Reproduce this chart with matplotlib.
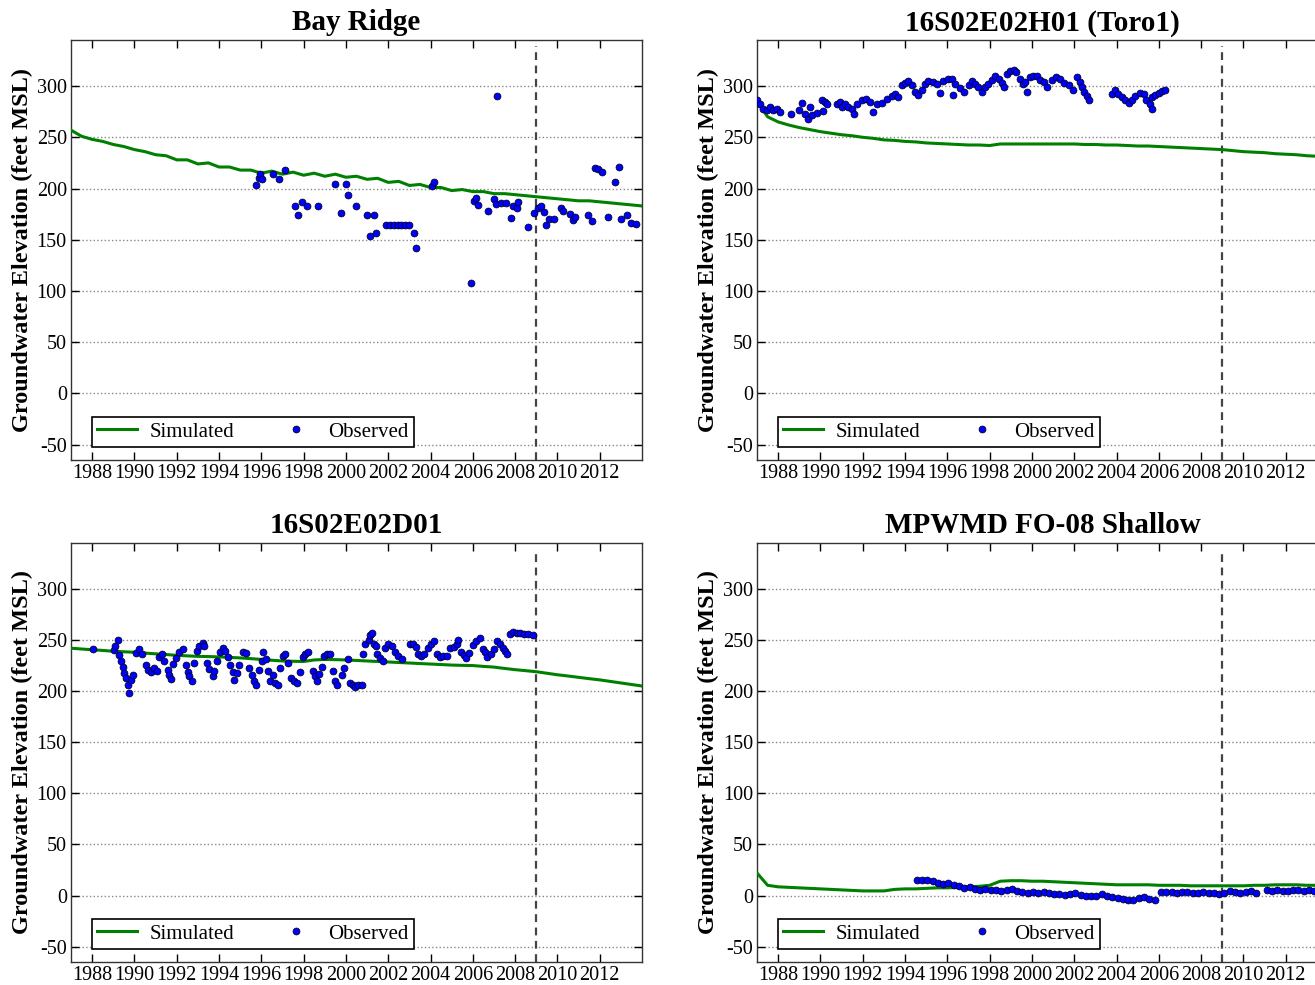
import numpy as np
import matplotlib
matplotlib.use('Agg')
import matplotlib.pyplot as plt

plt.rcParams['font.family'] = ['Liberation Serif', 'DejaVu Serif']
plt.rcParams['axes.unicode_minus'] = False

# ---------------- data (decimal years, feet MSL) ----------------
sim_years = np.arange(1987.0, 2014.01, 0.5)

bay_sim = [257, 251, 248, 246, 243, 241, 238, 236, 233, 232, 228, 228, 224, 225,
           221, 221, 218, 218, 215, 217, 214, 216, 213, 215, 212, 214, 211, 212,
           209, 210, 206, 207, 203, 204, 201, 201, 198, 199, 197, 197, 195, 195,
           194, 193, 192, 191, 190, 189, 188, 188, 187, 186, 185, 184, 183]
bay_obs_t = [1995.73, 1995.88, 1995.96, 1996.02, 1996.57, 1996.84, 1997.10, 1997.58,
             1997.75, 1997.92, 1998.16, 1998.68, 1999.50, 1999.75, 2000.00, 2000.09,
             2000.50, 2000.99, 2001.15, 2001.34, 2001.43, 2001.90, 2002.08, 2002.26,
             2002.44, 2002.62, 2002.80, 2002.97, 2003.22, 2003.32, 2004.07, 2004.15,
             2005.90, 2006.04, 2006.15, 2006.23, 2006.73, 2007.02, 2007.14, 2007.10,
             2007.33, 2007.57, 2007.82, 2007.90, 2008.07, 2008.16, 2008.59, 2008.89,
             2009.06, 2009.22, 2009.36, 2009.47, 2009.60, 2009.85, 2010.15, 2010.26,
             2010.60, 2010.73, 2010.84, 2011.47, 2011.63, 2011.77, 2011.91, 2012.13,
             2012.40, 2012.74, 2012.89, 2012.99, 2013.31, 2013.48, 2013.73]
bay_obs = [203, 210, 214, 209, 214, 209, 218, 183, 174, 187, 183, 183, 204, 176,
           204, 194, 183, 174, 154, 174, 157, 164, 164, 164, 164, 164, 164, 164,
           157, 142, 202, 206, 108, 188, 191, 184, 178, 190, 290, 185, 186, 186,
           171, 183, 181, 187, 162, 176, 181, 183, 177, 164, 170, 170, 181, 178,
           175, 169, 172, 174, 168, 220, 219, 216, 172, 206, 221, 170, 174, 166, 165]

toro_sim = [285, 270, 265, 262, 259.5, 257.5, 255.5, 254, 252.5, 251.5, 250, 249,
            247.5, 247, 246, 245.5, 244.5, 244, 243.5, 243, 242.5, 242.5, 242, 243.5,
            243.5, 243.5, 243.5, 243.5, 243.5, 243.5, 243.5, 243, 243, 242.5, 242.5,
            242, 241.5, 241.5, 241, 240.5, 240, 239.5, 239, 238.5, 238, 237, 236,
            235.5, 235, 234, 233.5, 233, 232, 231.5, 230.5]
toro_obs_t = [1986.98, 1987.14, 1987.30, 1987.46, 1987.61, 1987.77, 1987.93, 1988.09,
              1988.61, 1989.00, 1989.11, 1989.27, 1989.40, 1989.51, 1989.62, 1989.82,
              1990.06, 1990.14, 1990.19, 1990.30, 1990.77, 1990.93, 1991.04, 1991.16,
              1991.32, 1991.48, 1991.60, 1991.71, 1991.95, 1992.16, 1992.34, 1992.50,
              1992.66, 1992.90, 1993.13, 1993.37, 1993.53, 1993.68, 1993.84, 1994.00,
              1994.16, 1994.32, 1994.47, 1994.63, 1994.79, 1994.95, 1995.10, 1995.34,
              1995.50, 1995.66, 1995.81, 1996.02, 1996.21, 1996.25, 1996.37, 1996.60,
              1996.81, 1997.00, 1997.15, 1997.31, 1997.47, 1997.63, 1997.79, 1997.94,
              1998.10, 1998.26, 1998.42, 1998.57, 1998.68, 1998.81, 1998.97, 1999.13,
              1999.25, 1999.44, 1999.60, 1999.68, 1999.76, 1999.91, 2000.07, 2000.23,
              2000.39, 2000.55, 2000.73, 2000.94, 2001.14, 2001.33, 2001.52, 2001.73,
              2001.93, 2002.12, 2002.25, 2002.36, 2002.47, 2002.60, 2002.71,
              2003.78, 2003.93, 2004.09, 2004.25, 2004.41, 2004.57, 2004.72, 2004.88,
              2005.09, 2005.28, 2005.40, 2005.56, 2005.67, 2005.70, 2005.83, 2005.99,
              2006.14, 2006.30]
toro_obs = [286, 283, 278, 276.5, 279.7, 277, 278, 275, 272.6, 276.5, 283.5, 273,
            267.4, 279.7, 271.6, 274, 286.8, 275.8, 284.5, 283, 283, 284.5, 279.7, 283,
            279.7, 278, 272.6, 283, 286, 287.7, 284.5, 274.8, 283, 283.5, 287.7, 290,
            292.6, 289.4, 300.6, 303, 304.8, 300.6, 294.2, 291, 295.8, 302.3, 304.8,
            303.9, 301.6, 293.2, 304.8, 307, 307, 291, 302.3, 298.4, 294.2, 300.6, 304.8,
            302.3, 299, 294.2, 299, 302.3, 305.5, 310.3, 307, 303, 299, 312, 315, 315.8,
            313.5, 307, 302.3, 304, 294.2, 308.7, 310.3, 309.4, 305.5, 304, 299, 305.5,
            308.7, 307, 303, 300.6, 296.5, 308.7, 304, 299, 294.2, 290, 286,
            292.6, 296.5, 292.6, 289.4, 286, 283.5, 286, 290, 293.2, 292.6, 286.8, 283,
            289.4, 278, 291, 293.2, 295.2, 295.8]

d01_sim = [242, 241.2, 240.5, 239.8, 239, 238.5, 238, 237.2, 236.5, 235.8, 235, 234.5,
           234, 233.8, 233.5, 233, 232.5, 231.8, 231, 230.2, 229.5, 229.2, 229, 230.5,
           231, 230.8, 230.5, 230, 229.5, 229, 228.5, 228, 227.5, 227, 226.5, 226,
           225.5, 225.2, 225, 224.2, 223.5, 222.2, 221, 220, 219, 217.5, 216, 214.8,
           213.5, 212.2, 211, 209.5, 208, 206.5, 205]
d01_obs_t = [1988.02, 1989.02, 1989.10, 1989.21, 1989.29, 1989.37, 1989.44, 1989.52,
             1989.60, 1989.68, 1989.76, 1989.84, 1989.92, 1990.07, 1990.23, 1990.34,
             1990.55, 1990.66, 1990.78, 1990.94, 1991.07, 1991.18, 1991.29, 1991.42,
             1991.57, 1991.65, 1991.73, 1991.81, 1991.97, 1992.12, 1992.28, 1992.44,
             1992.52, 1992.60, 1992.71, 1992.83, 1992.96, 1993.07, 1993.23, 1993.31,
             1993.43, 1993.54, 1993.70, 1993.78, 1993.91, 1994.06, 1994.17, 1994.28,
             1994.41, 1994.54, 1994.65, 1994.73, 1994.84, 1994.96, 1995.12, 1995.28,
             1995.44, 1995.55, 1995.67, 1995.75, 1995.91, 1996.02, 1996.10, 1996.22,
             1996.33, 1996.43, 1996.54, 1996.65, 1996.78, 1996.90, 1997.01, 1997.12,
             1997.25, 1997.41, 1997.53, 1997.69, 1997.85, 1997.96, 1998.07, 1998.23,
             1998.43, 1998.54, 1998.62, 1998.75, 1998.86, 1998.97, 1999.09, 1999.25,
             1999.38, 1999.49, 1999.57, 1999.80, 1999.91, 2000.12, 2000.20, 2000.32,
             2000.43, 2000.59, 2000.75, 2000.80, 2000.91, 2001.07, 2001.14, 2001.22,
             2001.33, 2001.43, 2001.49, 2001.62, 2001.74, 2001.85, 2002.01, 2002.17,
             2002.33, 2002.48, 2002.64, 2003.04, 2003.19, 2003.32, 2003.43, 2003.54,
             2003.70, 2003.86, 2004.01, 2004.17, 2004.33, 2004.46, 2004.61, 2004.77,
             2004.93, 2005.09, 2005.24, 2005.32, 2005.43, 2005.56, 2005.69, 2005.84,
             2006.00, 2006.16, 2006.32, 2006.47, 2006.58, 2006.69, 2006.85, 2006.98,
             2007.14, 2007.29, 2007.42, 2007.53, 2007.64, 2007.77, 2007.92, 2008.08,
             2008.24, 2008.43, 2008.63, 2008.87]
d01_obs = [241.4, 239.8, 244, 249.7, 235.2, 229.3, 223.4, 217.8, 212.8, 205.6, 198,
           211.2, 216.1, 237.5, 240.8, 236.5, 225.3, 221, 218.8, 222.7, 219.4, 233.2,
           235.9, 229.3, 221, 216.1, 212.2, 226.6, 232.6, 238.5, 240.8, 226, 218.8,
           214.5, 209.5, 227.6, 239.1, 244, 247.4, 244, 227.6, 222, 214.5, 220, 229.3,
           238.5, 241.8, 239.1, 233.2, 225.3, 218.8, 211.2, 217.8, 226, 238.5, 237.5,
           222.7, 216.1, 209.5, 205.6, 221, 229.3, 238.5, 231.9, 219.4, 209.5, 215.5,
           207.9, 206.2, 222.7, 234.2, 236.5, 227.6, 212.8, 209.5, 207.9, 218.8, 233.2,
           236.5, 238.5, 219.4, 214.5, 209.5, 216.8, 223.4, 234.2, 236.5, 236.5, 219.4,
           210.2, 205.6, 216.1, 222.7, 231.9, 207.9, 205.6, 203.6, 206.2, 205.6, 236.5,
           245.7, 249.7, 254.9, 257.2, 246.4, 244, 235.9, 232.6, 229.9, 242.4, 246.4,
           244, 238.5, 234.2, 231.9, 245.7, 246.4, 243.1, 236.5, 234.2, 236.5, 241.8,
           246.4, 249, 235.9, 233.2, 234.2, 234.2, 241.8, 243.1, 246.4, 249.7, 238.5,
           235.2, 232.6, 237.5, 245.1, 249, 251.6, 240.8, 238.5, 233.2, 235.9, 240.8,
           249, 246.4, 242.4, 239.1, 236.5, 256.2, 258.2, 257.2, 257.2, 256.2, 255.6,
           254.9]

fo8_sim = [22, 10, 8.5, 8, 7.5, 7, 6.5, 6, 5.5, 5, 4.5, 4.5, 4.5, 6, 6.5, 6.5, 7, 7.5,
           7.5, 8, 8.5, 9, 10, 14, 14.5, 14.5, 14, 14, 13.5, 13, 12.5, 12, 11.5, 11,
           10.5, 10.5, 10.5, 10.5, 10, 10, 10, 9.5, 9.5, 9.5, 9.5, 9.5, 9.5, 10, 10,
           10.5, 10.5, 10.5, 10, 10, 10]
fo8_obs_t = [1994.55, 1994.80, 1995.05, 1995.30, 1995.55, 1995.80, 1996.05, 1996.30,
             1996.55, 1996.80, 1997.05, 1997.30, 1997.55, 1997.80, 1998.05, 1998.30,
             1998.55, 1998.80, 1999.05, 1999.30, 1999.55, 1999.80, 2000.05, 2000.30,
             2000.55, 2000.80, 2001.05, 2001.30, 2001.55, 2001.80, 2002.05, 2002.30,
             2002.55, 2002.80, 2003.05, 2003.30, 2003.55, 2003.80, 2004.05, 2004.30,
             2004.55, 2004.80, 2005.05, 2005.30, 2005.55, 2005.80, 2006.10, 2006.35,
             2006.60, 2006.85, 2007.10, 2007.35, 2007.60, 2007.85, 2008.10, 2008.35,
             2008.60, 2008.85, 2009.10, 2009.35, 2009.60, 2009.85, 2010.10, 2010.35,
             2010.60, 2011.10, 2011.35, 2011.60, 2011.85, 2012.10, 2012.35, 2012.60,
             2012.85, 2013.10, 2013.35, 2013.60, 2013.85]
fo8_obs = [15.5, 15, 15, 14, 12.5, 11, 12, 10.5, 9, 7.5, 8.5, 6.5, 5.5, 6.5, 5.5, 5, 4,
           5, 6, 4, 3, 2.5, 3.5, 2, 3, 2, 1.5, 1, 0.5, 1.5, 2, 0.5, 0, -0.5, -0.5, 1,
           -0.5, -1.5, -2, -3, -4, -4.5, -2, -1, -3, -4.5, 3, 3.5, 3.5, 2.5, 3, 3.5,
           2.5, 2.5, 3, 2.5, 2, 1, 2.5, 4.5, 3, 2.5, 3.5, 4, 2.5, 5, 4.5, 5, 4.5, 4.5,
           5, 5, 4.5, 5, 4.5, 5, 4.5]

titles = ['Bay Ridge', '16S02E02H01 (Toro1)', '16S02E02D01', 'MPWMD FO-08 Shallow']
sims = [bay_sim, toro_sim, d01_sim, fo8_sim]
obs_t = [bay_obs_t, toro_obs_t, d01_obs_t, fo8_obs_t]
obs_v = [bay_obs, toro_obs, d01_obs, fo8_obs]

xticks = list(range(1988, 2013, 2))
yticks = list(range(-50, 301, 50))
calib_end = 2009.0

# ---------------- figure ----------------
fig = plt.figure(figsize=(13.15, 9.85), dpi=100)
positions = [[0.054, 0.533, 0.4342, 0.4264],
             [0.5757, 0.533, 0.4342, 0.4264],
             [0.054, 0.0234, 0.4342, 0.4254],
             [0.5757, 0.0234, 0.4342, 0.4254]]

for i in range(4):
    ax = fig.add_axes(positions[i])
    ax.plot(sim_years, sims[i], color='#008000', lw=2.2, label='Simulated', zorder=3)
    ax.plot(obs_t[i], obs_v[i], 'o', color='#0000ff', mec='black', mew=0.5, ms=5,
            label='Observed', zorder=4)
    ax.axvline(calib_end, ymax=0.985, color='#444444', lw=1.6, ls=(0, (3.5, 2.5)), zorder=2)

    ax.set_xlim(1987.0, 2014.0)
    ax.set_ylim(-65, 345)
    ax.set_xticks(xticks)
    ax.set_xticklabels([str(y) for y in xticks])
    ax.set_yticks(yticks)
    ax.set_yticklabels([str(y) for y in yticks])
    ax.tick_params(direction='in', top=True, right=True, length=6, width=1,
                   labelsize=14.5, pad=3)
    ax.yaxis.grid(True, ls=':', color='#888888', lw=1)
    for s in ax.spines.values():
        s.set_color('#333333')
        s.set_linewidth(1)

    ax.set_title(titles[i], fontsize=21, fontweight='bold', pad=7)
    ax.set_ylabel('Groundwater Elevation (feet MSL)', fontsize=17.5, fontweight='bold',
                  labelpad=3)

    leg = ax.legend(loc='lower left', bbox_to_anchor=(0.037, 0.031), borderaxespad=0,
                    ncol=2, fontsize=15, numpoints=1, handlelength=1.9,
                    handletextpad=0.6, columnspacing=2.0, borderpad=0.25,
                    fancybox=False, framealpha=1)
    leg.get_frame().set_edgecolor('black')
    leg.get_frame().set_linewidth(1.2)

fig.savefig('out.png', dpi=100)
